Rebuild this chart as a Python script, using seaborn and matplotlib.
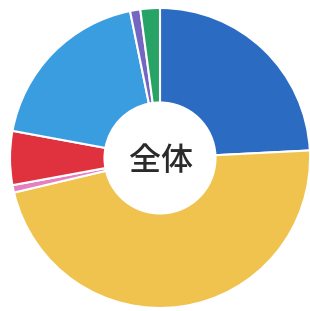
import matplotlib
matplotlib.use("Agg")
import matplotlib.pyplot as plt
import seaborn as sns

# slice shares (%), clockwise from 12 o'clock
labels = ["A", "B", "C", "D", "E", "F", "G"]
shares = [24.2, 47.1, 0.8, 5.8, 18.9, 1.1, 2.1]
colors = ["#2b6cc2", "#f0c24e", "#e67fc0", "#e0313f", "#3a9de0", "#7467c4", "#27a366"]
center_label = "全体"

sns.set_theme(style="white")
plt.rcParams["font.family"] = ["Noto Sans CJK JP", "DejaVu Sans"]

fig = plt.figure(figsize=(3.10, 3.11), dpi=100)
ax = fig.add_axes([10 / 310, 3 / 311, 300 / 310, 300 / 311])

ax.pie(
    shares,
    colors=colors,
    startangle=90,
    counterclock=False,
    radius=1.0,
    wedgeprops=dict(width=0.63, edgecolor="white", linewidth=1.5),
)
ax.text(0.01, -0.02, center_label, ha="center", va="center",
        fontsize=23, fontweight="medium", color="#2a2a2a")
ax.set_xlim(-1, 1)
ax.set_ylim(-1, 1)
ax.set_aspect("equal")
ax.axis("off")

fig.savefig("out.png", dpi=100)
